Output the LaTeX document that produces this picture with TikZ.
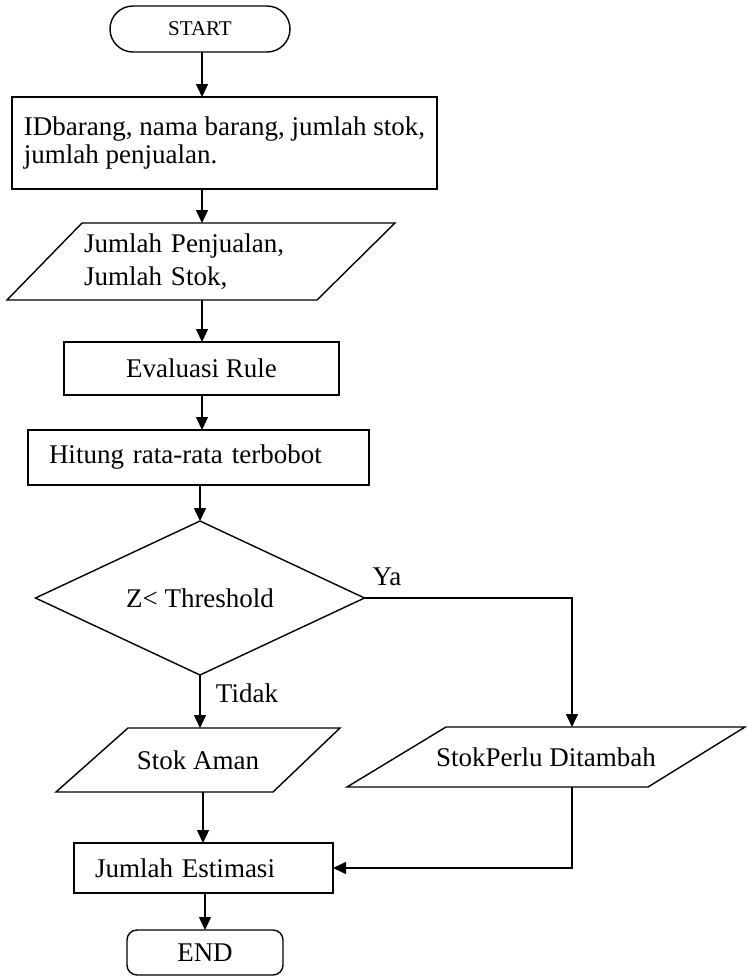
\documentclass[tikz,border=0pt]{standalone}
\usepackage{fontspec}
\setmainfont{Liberation Serif}
\usetikzlibrary{arrows.meta,shapes.geometric,calc}
\begin{document}
\begin{tikzpicture}[x=1pt,y=-1pt,
  every node/.style={font=\fontsize{27}{28}\selectfont, outer sep=0pt},
  box/.style={draw, line width=1.4pt, inner sep=0pt},
  para/.style={inner sep=0pt},
  ln/.style={line width=1.4pt},
  arr/.style={line width=1.4pt, -{Triangle[length=13pt,width=12pt]}}]
\useasboundingbox (0,0) rectangle (747,978);
\coordinate (ax) at (202,0);
\coordinate (cx) at (203,0);
\coordinate (bx) at (572,0);

% START
\node[box, rounded corners=23pt, minimum width=180pt, minimum height=46pt,
      font=\fontsize{21}{22}\selectfont] (start) at (200,29) {START};

% input box
\node[box, minimum width=425pt, minimum height=92pt, align=left] (box1) at (224.5,143)
  {IDbarang, nama barang, jumlah stok,\\jumlah penjualan.};

% parallelogram 1
\node[para, minimum height=77pt, text width=234pt, inner xsep=77pt, align=left,
      font=\fontsize{27}{33}\selectfont] (p1) at (201,261.5)
  {Jumlah Penjualan,\\Jumlah Stok,};
\draw[ln] ($(p1.north west)+(75,0)$) -- (p1.north east) -- ($(p1.south east)+(-78,0)$) -- (p1.south west) -- cycle;

% Evaluasi Rule
\node[box, minimum width=275pt, minimum height=53pt] (ev) at (201.5,368.5) {Evaluasi Rule};

% Hitung
\node[box, minimum height=55pt, text width=299pt, inner xsep=21pt, align=left] (hit) at (198.5,457.5)
  {Hitung rata-rata terbobot};

% decision
\node[draw, line width=1.4pt, diamond, aspect=2.14, inner sep=0pt,
      minimum width=329pt, minimum height=154pt] (dia) at (200,598) {Z< Threshold};

% Stok Aman
\node[para, minimum width=284pt, minimum height=64pt] (sa) at (198,760) {Stok Aman};
\draw[ln] ($(sa.north west)+(72,0)$) -- (sa.north east) -- ($(sa.south east)+(-67,0)$) -- (sa.south west) -- cycle;

% StokPerlu Ditambah
\node[para, minimum width=398pt, minimum height=60pt] (sp) at (546,757) {StokPerlu Ditambah};
\draw[ln] ($(sp.north west)+(99,0)$) -- (sp.north east) -- ($(sp.south east)+(-97,0)$) -- (sp.south west) -- cycle;

% Jumlah Estimasi
\node[box, minimum height=50pt, text width=217pt, inner xsep=21pt, align=left] (je) at (203.5,868)
  {Jumlah Estimasi};

% END
\node[box, rounded corners=10pt, minimum width=156pt, minimum height=45pt] (end) at (205,952.5) {END};

% labels
\node (ya) at (387,577) {Ya};
\node (tidak) at (247,693) {Tidak};

% connectors
\draw[arr] (start.south -| ax) -- (box1.north -| ax);
\draw[arr] (box1.south -| ax) -- (p1.north -| ax);
\draw[arr] (p1.south -| ax) -- (ev.north -| ax);
\draw[arr] (ev.south -| ax) -- (hit.north -| ax);
\draw[arr] (hit.south -| dia.north) -- (dia.north);
\draw[arr] (dia.south) -- (sa.north -| dia.south);
\draw[arr] (dia.east) -| (sp.north -| bx);
\draw[arr] (sp.south -| bx) |- (je.east);
\draw[arr] (sa.south -| cx) -- (je.north -| cx);
\draw[arr] (je.south -| end.north) -- (end.north);
\end{tikzpicture}
\end{document}
